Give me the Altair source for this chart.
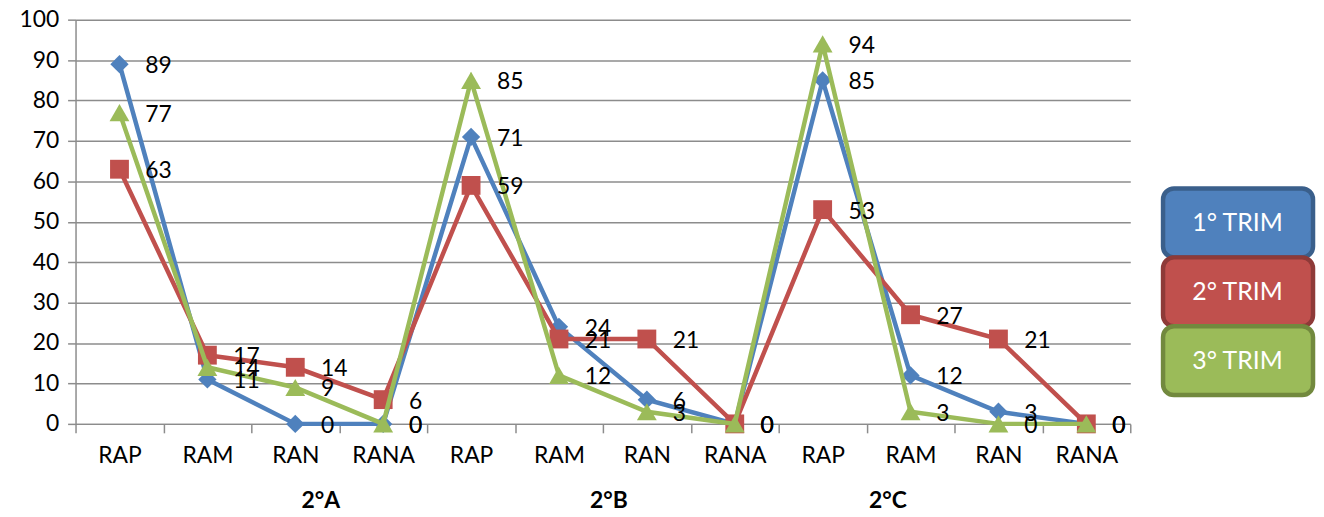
import altair as alt
import pandas as pd

groups = ["2°A", "2°B", "2°C"]
categories = ["RAP", "RAM", "RAN", "RANA"]
series = ["1° TRIM", "2° TRIM", "3° TRIM"]
trim1 = [89, 11, 0, 0, 71, 24, 6, 0, 85, 12, 3, 0]
trim2 = [63, 17, 14, 6, 59, 21, 21, 0, 53, 27, 21, 0]
trim3 = [77, 14, 9, 0, 85, 12, 3, 0, 94, 3, 0, 0]
colors = ["#4F81BD", "#C0504D", "#9BBB59"]
dark = ["#3A5F8B", "#8E3A38", "#72893E"]
shapes = ["diamond", "square", "triangle-up"]
sizes = [340, 360, 400]
group_label_x = [247, 537, 818]  # pixel offsets of group captions (as drawn in the reference)

FONT = "Lato"
FS = 23
W, H = 1062, 407
GRID = "#8C8C8C"

keys = [f"{g}|{c}" for g in groups for c in categories]
rows = []
for s, vals in zip(series, [trim1, trim2, trim3]):
    for k, v in zip(keys, vals):
        rows.append({"key": k, "series": s, "value": v})
df = pd.DataFrame(rows)

xenc = alt.X(
    "key:N", sort=keys, title=None,
    scale=alt.Scale(type="band", domain=keys, paddingInner=0, paddingOuter=0),
    axis=alt.Axis(labelExpr="split(datum.value, '|')[1]", tickBand="extent", labelAngle=0,
                  tickSize=9, labelPadding=12, grid=False, domainColor=GRID, tickColor=GRID,
                  domainWidth=1.5, tickWidth=1.5, labelFontSize=FS, labelFont=FONT,
                  labelColor="black"),
)
yenc = alt.Y(
    "value:Q", title=None,
    scale=alt.Scale(domain=[0, 100], nice=False, zero=True),
    axis=alt.Axis(values=list(range(0, 101, 10)), grid=True, gridColor=GRID, gridWidth=1.5,
                  domainColor=GRID, domainWidth=1.5, tickColor=GRID, tickWidth=1.5, tickSize=8,
                  labelPadding=9, labelFontSize=FS, labelFont=FONT, labelColor="black"),
)

main_layers = []
for i, s in enumerate(series):
    d = df[df.series == s]
    base = alt.Chart(d).encode(x=xenc, y=yenc)
    main_layers.append(base.mark_line(strokeWidth=4.5, color=colors[i]))
    main_layers.append(base.mark_point(shape=shapes[i], size=sizes[i], filled=True,
                                       opacity=1, color=colors[i]))
for i, s in enumerate(series):
    d = df[df.series == s]
    main_layers.append(
        alt.Chart(d).mark_text(align="left", baseline="middle", dx=26, dy=2, fontSize=FS,
                               font=FONT, color="black")
        .encode(x=xenc, y=yenc, text="value:Q")
    )
for g, gx in zip(groups, group_label_x):
    main_layers.append(
        alt.Chart(pd.DataFrame({"g": [g]})).mark_text(fontSize=FS, font=FONT, fontWeight="bold",
                                                      color="black", baseline="middle")
        .encode(x=alt.value(gx), y=alt.value(H + 78), text="g:N")
    )
main = alt.layer(*main_layers)

leg_df = pd.DataFrame({"series": series})
leg_y = alt.Y("series:N", sort=series, axis=None, title=None,
              scale=alt.Scale(domain=series, range=[170, 378], paddingInner=0, paddingOuter=0))
legend = alt.layer(
    alt.Chart(leg_df).mark_rect(cornerRadius=11, strokeWidth=4.5).encode(
        x=alt.value(1095), x2=alt.value(1246), y=leg_y,
        fill=alt.Fill("series:N", scale=alt.Scale(domain=series, range=colors), legend=None),
        stroke=alt.Stroke("series:N", scale=alt.Scale(domain=series, range=dark), legend=None),
    ),
    alt.Chart(leg_df).mark_text(color="white", fontSize=25, font=FONT).encode(
        x=alt.value(1170), y=leg_y, text="series:N"
    ),
)

chart = (
    alt.layer(main, legend)
    .resolve_scale(y="independent")
    .properties(width=W, height=H, padding={"left": 10, "top": -1, "right": 0, "bottom": 0})
    .configure_view(stroke=None)
)

chart.save("out.html", embed_options={"renderer": "svg", "actions": False})
